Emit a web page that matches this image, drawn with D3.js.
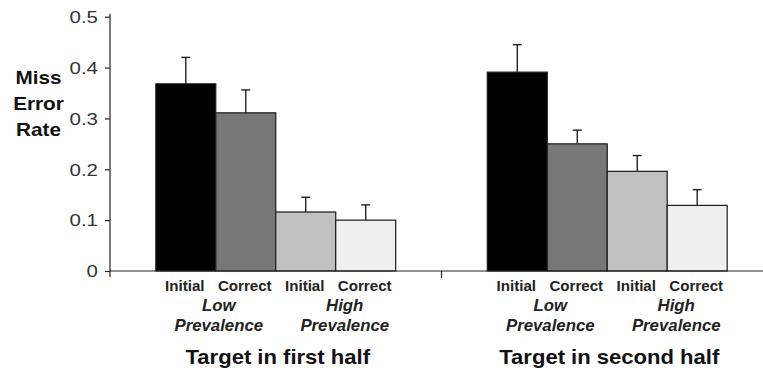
<!DOCTYPE html>
<html>
<head>
<meta charset="utf-8">
<script src="https://cdn.jsdelivr.net/npm/d3@7"></script>
<style>
  html, body { margin: 0; padding: 0; background: #fff; }
  svg { display: block; font-family: "Liberation Sans", Arial, sans-serif; }
</style>
</head>
<body>
<svg id="chart" width="763" height="374"></svg>
<script>
// ---- data ----
const groups = ["Target in first half", "Target in second half"];
const conditionKeys = ["lowInitial", "lowCorrect", "highInitial", "highCorrect"];
const conditionLabels = ["Initial", "Correct", "Initial", "Correct"];
const prevalenceLabels = [["Low", "Prevalence"], ["High", "Prevalence"]];
const firstHalfValues = [0.368, 0.311, 0.116, 0.100];
const firstHalfErrors = [0.052, 0.045, 0.029, 0.030];
const secondHalfValues = [0.391, 0.250, 0.196, 0.129];
const secondHalfErrors = [0.054, 0.027, 0.031, 0.031];
const yTicks = [0, 0.1, 0.2, 0.3, 0.4, 0.5];
const yTickLabels = ["0", "0.1", "0.2", "0.3", "0.4", "0.5"];
const yTitle = ["Miss", "Error", "Rate"];
const barColors = ["#000000", "#777777", "#c0c0c0", "#efefef"];

const seriesValues = [firstHalfValues, secondHalfValues];
const seriesErrors = [firstHalfErrors, secondHalfErrors];

// ---- layout ----
const svg = d3.select("#chart");
const plotLeft = 110, plotRight = 773, plotTop = 16.7, plotBottom = 271;

const y = d3.scaleLinear().domain([0, 0.5]).range([plotBottom, plotTop]);
const x0 = d3.scaleBand().domain(groups).range([plotLeft, plotRight]).padding(0);
const x1 = d3.scaleBand().domain(conditionKeys).range([0, x0.bandwidth()])
  .paddingInner(0).paddingOuter(0.764);
const color = d3.scaleOrdinal().domain(conditionKeys).range(barColors);

const data = groups.map((g, gi) => ({
  group: g,
  bars: conditionKeys.map((k, ci) => ({
    key: k, label: conditionLabels[ci],
    value: seriesValues[gi][ci], err: seriesErrors[gi][ci]
  }))
}));

// ---- y axis ----
const yAxis = svg.append("g")
  .attr("transform", `translate(${plotLeft},0)`)
  .call(d3.axisLeft(y).tickValues(yTicks).tickSize(5).tickSizeOuter(0)
    .tickFormat((d, i) => yTickLabels[i]));
yAxis.select(".domain").remove();
yAxis.selectAll(".tick line").attr("stroke", "#222").attr("stroke-width", 1.2);
yAxis.selectAll(".tick text")
  .attr("x", 0).attr("dy", "0.36em")
  .attr("transform", "translate(-12,0) scale(1.28,1)")
  .attr("fill", "#333")
  .style("font-size", "16px")
  .style("font-family", "'Liberation Sans', Arial, sans-serif");

// vertical axis line (extends a little below zero)
svg.append("line")
  .attr("x1", plotLeft).attr("x2", plotLeft)
  .attr("y1", y(0.5) - 3).attr("y2", y(0) + 6)
  .attr("stroke", "#222").attr("stroke-width", 1.2);

// y title
svg.append("g").selectAll("text").data(yTitle).join("text")
  .attr("transform", (d, i) => `translate(38.5,${83.5 + i * 26}) scale(1.15,1)`)
  .attr("text-anchor", "middle")
  .attr("font-weight", "bold")
  .attr("font-size", 18)
  .attr("fill", "#111")
  .text(d => d);

// ---- bars ----
const gGroups = svg.append("g").selectAll("g").data(data).join("g")
  .attr("transform", d => `translate(${x0(d.group)},0)`);

gGroups.selectAll("rect").data(d => d.bars).join("rect")
  .attr("x", d => x1(d.key))
  .attr("y", d => y(d.value))
  .attr("width", x1.bandwidth())
  .attr("height", d => y(0) - y(d.value))
  .attr("fill", d => color(d.key))
  .attr("stroke", "#1a1a1a")
  .attr("stroke-width", 1.2);

// error bars (upper only)
const capW = 9;
gGroups.selectAll("line.err").data(d => d.bars).join("line")
  .attr("class", "err")
  .attr("x1", d => x1(d.key) + x1.bandwidth() / 2)
  .attr("x2", d => x1(d.key) + x1.bandwidth() / 2)
  .attr("y1", d => y(d.value))
  .attr("y2", d => y(d.value + d.err))
  .attr("stroke", "#222").attr("stroke-width", 1.4);
gGroups.selectAll("line.cap").data(d => d.bars).join("line")
  .attr("class", "cap")
  .attr("x1", d => x1(d.key) + x1.bandwidth() / 2 - capW / 2)
  .attr("x2", d => x1(d.key) + x1.bandwidth() / 2 + capW / 2)
  .attr("y1", d => y(d.value + d.err))
  .attr("y2", d => y(d.value + d.err))
  .attr("stroke", "#222").attr("stroke-width", 1.4);

// baseline
svg.append("line")
  .attr("x1", plotLeft).attr("x2", plotRight)
  .attr("y1", y(0)).attr("y2", y(0))
  .attr("stroke", "#222").attr("stroke-width", 1.2);

// group separator ticks
svg.append("g").selectAll("line").data(groups.slice(1)).join("line")
  .attr("x1", d => x0(d)).attr("x2", d => x0(d))
  .attr("y1", y(0)).attr("y2", y(0) + 7)
  .attr("stroke", "#222").attr("stroke-width", 1.2);

// condition labels
gGroups.selectAll("text.cond").data(d => d.bars).join("text")
  .attr("class", "cond")
  .attr("transform", d => `translate(${x1(d.key) + x1.bandwidth() / 2 - 1},290.7) scale(1.08,1)`)
  .attr("text-anchor", "middle")
  .attr("font-weight", "bold")
  .attr("font-size", 14)
  .attr("fill", "#222")
  .text(d => d.label);

// prevalence labels
const prevOffsets = [3, 9];
gGroups.each(function() {
  const g = d3.select(this);
  prevalenceLabels.forEach((lines, pi) => {
    const cx = x1(conditionKeys[pi * 2]) + x1.bandwidth() + prevOffsets[pi];
    lines.forEach((t, li) => {
      g.append("text")
        .attr("transform", `translate(${cx},${310.5 + li * 20.5}) scale(1.05,1)`)
        .attr("text-anchor", "middle")
        .attr("font-weight", "bold")
        .attr("font-style", "italic")
        .attr("font-size", 16)
        .attr("fill", "#222")
        .text(t);
    });
  });
});

// group titles
gGroups.append("text")
  .attr("transform", `translate(${x0.bandwidth() / 2 + 2},363.5) scale(1.05,1)`)
  .attr("text-anchor", "middle")
  .attr("font-weight", "bold")
  .attr("font-size", 21)
  .attr("fill", "#111")
  .text(d => d.group);
</script>
</body>
</html>
